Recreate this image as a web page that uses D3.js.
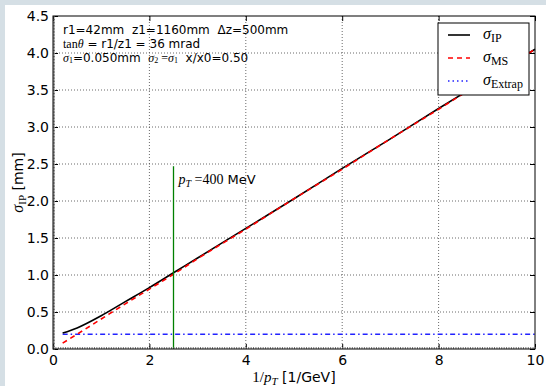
<!DOCTYPE html>
<html>
<head>
<meta charset="utf-8">
<script src="https://cdn.jsdelivr.net/npm/d3@7"></script>
<style>
  body { margin: 0; background: #fff; }
  svg { display: block; }
  text { font-family: "DejaVu Sans", sans-serif; white-space: pre; }
  .math { font-family: "Liberation Serif", serif; }
</style>
</head>
<body>
<div id="chart"></div>
<script>
(function() {

// values
var invPt   = [0.2, 0.5, 1.0, 1.5, 2.0, 2.5, 3.0, 4.0, 5.0, 6.0, 7.0, 8.0, 9.0, 10.0];
var sigIP   = [0.215, 0.285, 0.45, 0.64, 0.83, 1.03, 1.23, 1.63, 2.03, 2.44, 2.84, 3.25, 3.65, 4.05];
var sigMS   = [0.08, 0.20, 0.405, 0.61, 0.81, 1.01, 1.22, 1.62, 2.03, 2.43, 2.84, 3.24, 3.65, 4.05];
var sigExt  = [0.2, 0.2, 0.2, 0.2, 0.2, 0.2, 0.2, 0.2, 0.2, 0.2, 0.2, 0.2, 0.2, 0.2];
var markPt  = 2.5, markTop = 2.47;
var xTicks  = [0, 2, 4, 6, 8, 10];
var yTicks  = [0, 0.5, 1.0, 1.5, 2.0, 2.5, 3.0, 3.5, 4.0, 4.5];

var W = 546, H = 386,
    margin = {top: 16, right: 11, bottom: 37, left: 53},
    width = W - margin.left - margin.right,
    height = H - margin.top - margin.bottom;

var svg = d3.select("#chart").append("svg")
    .attr("width", W).attr("height", H);

// page frame strip (left / top)
svg.append("rect").attr("x", 0).attr("y", 0).attr("width", W).attr("height", 5).attr("fill", "#d5dfe5");
svg.append("rect").attr("x", 0).attr("y", 0).attr("width", 5).attr("height", H).attr("fill", "#d5dfe5");

var g = svg.append("g").attr("transform", "translate(" + margin.left + "," + margin.top + ")");

var x = d3.scaleLinear().domain([0, 10]).range([0, width]);
var y = d3.scaleLinear().domain([0, 4.5]).range([height, 0]);

// grid
g.append("g").selectAll("line").data(xTicks.slice(1, -1)).enter().append("line")
    .attr("x1", x).attr("x2", x).attr("y1", 0).attr("y2", height)
    .attr("stroke", "#444").attr("stroke-width", 0.8).attr("stroke-dasharray", "1,2");
g.append("g").selectAll("line").data(yTicks.slice(1, -1)).enter().append("line")
    .attr("y1", y).attr("y2", y).attr("x1", 0).attr("x2", width)
    .attr("stroke", "#444").attr("stroke-width", 0.8).attr("stroke-dasharray", "1,2");

// lines
var line = function(ys) {
  return d3.line().x(function(d, i) { return x(invPt[i]); }).y(function(d) { return y(d); })
    .curve(d3.curveMonotoneX)(ys);
};

g.append("path").attr("d", line(sigExt)).attr("fill", "none")
    .attr("stroke", "#2222ff").attr("stroke-width", 1.6).attr("stroke-dasharray", "5,3,1.5,3");
g.append("path").attr("d", line(sigIP)).attr("fill", "none")
    .attr("stroke", "#000").attr("stroke-width", 1.6);
g.append("path").attr("d", line(sigMS)).attr("fill", "none")
    .attr("stroke", "#ff0000").attr("stroke-width", 1.6).attr("stroke-dasharray", "5,4");

// 400 MeV marker
g.append("line").attr("x1", x(markPt)).attr("x2", x(markPt))
    .attr("y1", y(0)).attr("y2", y(markTop))
    .attr("stroke", "#008000").attr("stroke-width", 1.3);
var mt = g.append("text").attr("x", x(markPt) + 5).attr("y", y(2.23)).attr("font-size", 13);
mt.append("tspan").attr("class", "math").attr("font-style", "italic").attr("font-size", 14).text("p");
mt.append("tspan").attr("class", "math").attr("font-style", "italic").attr("font-size", 10).attr("dy", 3).text("T");
mt.append("tspan").attr("class", "math").attr("font-size", 14).attr("dy", -3).text(" =400");
mt.append("tspan").text(" MeV");

// axes: ticks on all sides, inside
var tick = 5;
g.append("g").attr("transform", "translate(0," + height + ")")
    .call(d3.axisBottom(x).tickValues(xTicks).tickSize(-tick).tickPadding(6).tickFormat(d3.format("d")))
    .call(function(a) { a.select(".domain").remove(); a.selectAll("text").attr("font-size", 14).attr("fill", "#000"); });
g.append("g")
    .call(d3.axisTop(x).tickValues(xTicks).tickSize(-tick).tickFormat(""))
    .call(function(a) { a.select(".domain").remove(); });
g.append("g")
    .call(d3.axisLeft(y).tickValues(yTicks).tickSize(-tick).tickPadding(4).tickFormat(d3.format(".1f")))
    .call(function(a) { a.select(".domain").remove(); a.selectAll("text").attr("font-size", 14).attr("fill", "#000"); });
g.append("g").attr("transform", "translate(" + width + ",0)")
    .call(d3.axisRight(y).tickValues(yTicks).tickSize(-tick).tickFormat(""))
    .call(function(a) { a.select(".domain").remove(); });

// minor ticks giving the hatched spine look
g.append("g").attr("transform", "translate(0," + height + ")")
    .call(d3.axisBottom(x).ticks(200).tickSize(-2).tickFormat(""))
    .call(function(a) { a.select(".domain").remove(); a.selectAll("line").attr("stroke", "#777"); });
g.append("g")
    .call(d3.axisLeft(y).ticks(150).tickSize(-2).tickFormat(""))
    .call(function(a) { a.select(".domain").remove(); a.selectAll("line").attr("stroke", "#777"); });

g.append("rect").attr("width", width).attr("height", height)
    .attr("fill", "none").attr("stroke", "#000").attr("stroke-width", 1);

// axis labels
var xl = g.append("text").attr("x", width / 2).attr("y", height + 33).attr("text-anchor", "middle").attr("font-size", 14);
xl.append("tspan").attr("class", "math").attr("font-size", 15).text("1/");
xl.append("tspan").attr("class", "math").attr("font-style", "italic").attr("font-size", 15).text("p");
xl.append("tspan").attr("class", "math").attr("font-style", "italic").attr("font-size", 11).attr("dy", 3).text("T");
xl.append("tspan").attr("dy", -3).text(" [1/GeV]");

var yl = g.append("text").attr("transform", "translate(-30," + (height / 2) + ") rotate(-90)")
    .attr("text-anchor", "middle").attr("font-size", 14);
yl.append("tspan").attr("class", "math").attr("font-style", "italic").attr("font-size", 16).text("σ");
yl.append("tspan").attr("class", "math").attr("font-size", 11).attr("dy", 3).text("IP");
yl.append("tspan").attr("dy", -3).text(" [mm]");

// info text
var fs = 12;
var info = g.append("g").attr("transform", "translate(10,0)");
info.append("text").attr("y", 18).attr("font-size", fs).text("r1=42mm  z1=1160mm  \u0394z=500mm");
var t2 = info.append("text").attr("y", 32).attr("font-size", fs);
t2.append("tspan").attr("class", "math").text("tan");
t2.append("tspan").attr("class", "math").attr("font-style", "italic").text("\u03b8");
t2.append("tspan").text(" = r1/z1 = 36 mrad");
var t3 = info.append("text").attr("y", 46).attr("font-size", fs);
t3.append("tspan").attr("class", "math").attr("font-style", "italic").attr("font-size", 12).text("\u03c3");
t3.append("tspan").attr("class", "math").attr("font-size", 8).attr("dy", 1).text("1");
t3.append("tspan").attr("dy", -1).text("=0.050mm  ");
t3.append("tspan").attr("class", "math").attr("font-style", "italic").attr("font-size", 12).text("\u03c3");
t3.append("tspan").attr("class", "math").attr("font-size", 8).attr("dy", 1).text("2");
t3.append("tspan").attr("class", "math").attr("font-size", 12).attr("dy", -1).text(" =");
t3.append("tspan").attr("class", "math").attr("font-style", "italic").attr("font-size", 12).text("\u03c3");
t3.append("tspan").attr("class", "math").attr("font-size", 8).attr("dy", 1).text("1");
t3.append("tspan").attr("dy", -1).text("  x/x0=0.50");

// legend
var legendNames = ["IP", "MS", "Extrap"];
var legendColors = ["#000", "#ff0000", "#2222ff"];
var legendDash = [null, "5,4", "1.5,3,1.5,3"];
var lg = g.append("g").attr("transform", "translate(" + (width - 97) + ",7)");
lg.append("rect").attr("width", 91).attr("height", 72).attr("fill", "#fff").attr("stroke", "#000").attr("stroke-width", 1);
legendNames.forEach(function(n, i) {
  var yy = 12 + i * 23;
  lg.append("line").attr("x1", 10).attr("x2", 32).attr("y1", yy).attr("y2", yy)
      .attr("stroke", legendColors[i]).attr("stroke-width", 1.6).attr("stroke-dasharray", legendDash[i]);
  var t = lg.append("text").attr("x", 45).attr("y", yy + 4).attr("class", "math");
  t.append("tspan").attr("font-style", "italic").attr("font-size", 16).text("\u03c3");
  t.append("tspan").attr("font-size", 12).attr("dy", 3).text(n);
});

}());
</script>
</body>
</html>
